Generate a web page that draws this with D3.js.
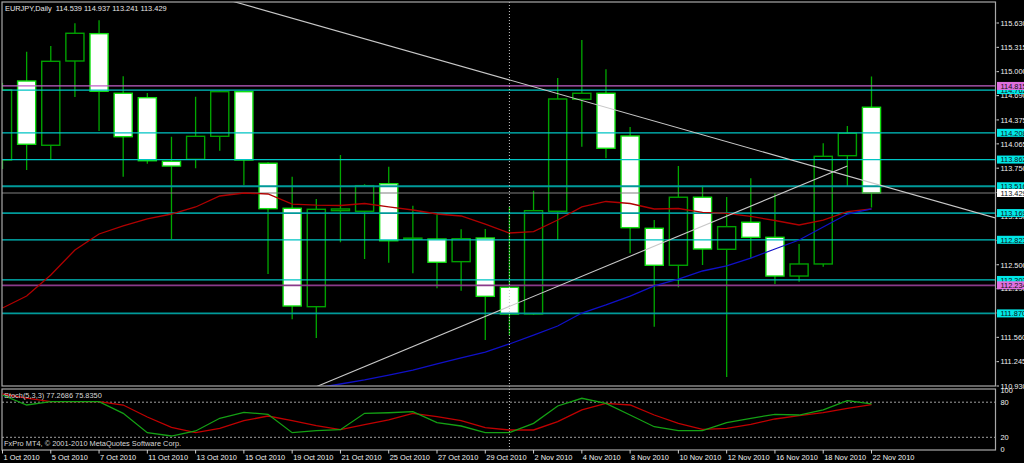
<!DOCTYPE html>
<html><head><meta charset="utf-8">
<script src="https://cdn.jsdelivr.net/npm/d3@7"></script>
<style>html,body{margin:0;padding:0;background:#000;overflow:hidden}</style>
</head><body>
<svg id="c" width="1024" height="463"></svg>
<script>
// ---------------- data ----------------
const dates = ["1 Oct 2010","4 Oct 2010","5 Oct 2010","6 Oct 2010","7 Oct 2010","8 Oct 2010",
  "11 Oct 2010","12 Oct 2010","13 Oct 2010","14 Oct 2010","15 Oct 2010",
  "18 Oct 2010","19 Oct 2010","20 Oct 2010","21 Oct 2010","22 Oct 2010",
  "25 Oct 2010","26 Oct 2010","27 Oct 2010","28 Oct 2010","29 Oct 2010",
  "1 Nov 2010","2 Nov 2010","3 Nov 2010","4 Nov 2010","5 Nov 2010",
  "8 Nov 2010","9 Nov 2010","10 Nov 2010","11 Nov 2010","12 Nov 2010",
  "15 Nov 2010","16 Nov 2010","17 Nov 2010","18 Nov 2010","19 Nov 2010","22 Nov 2010"];
const openP  = [113.856,114.879,114.047,115.138,115.492,114.720,114.663,113.839,113.865,114.163,114.741,
  113.814,113.231,111.957,113.200,113.192,113.549,112.830,112.833,112.540,112.846,
  112.208,111.862,113.192,114.642,114.720,114.167,112.972,112.493,113.374,112.700,
  113.050,112.855,112.354,112.510,113.912,114.539];
const highP  = [114.853,115.259,115.332,115.626,115.665,114.940,114.724,114.158,114.676,114.754,114.754,
  113.826,113.640,113.351,113.921,113.542,113.770,113.265,113.153,112.959,112.963,
  113.252,113.459,114.918,115.410,115.031,114.284,113.080,113.779,113.524,113.377,
  113.619,113.425,112.769,114.073,114.297,114.937];
const lowP   = [113.740,113.727,113.865,114.672,114.232,113.640,113.808,112.833,113.749,113.977,113.533,
  112.380,111.794,111.552,112.791,112.574,112.527,112.389,112.195,112.164,111.526,
  111.590,111.849,112.820,114.029,113.878,112.648,111.698,112.208,112.497,111.047,
  112.583,112.251,112.281,112.475,113.511,113.241];
const closeP = [114.763,114.060,115.134,115.497,114.746,114.158,113.847,113.778,114.163,114.741,113.856,
  113.226,111.966,113.218,113.222,113.524,112.811,112.845,112.532,112.837,112.091,
  111.862,113.200,114.646,114.720,114.008,112.980,112.493,113.374,112.704,112.993,
  112.855,112.354,112.510,113.904,114.202,113.429];
const maRed = [111.940,112.095,112.367,112.691,112.898,113.002,113.093,113.157,113.248,113.390,113.429,
  113.416,113.286,113.273,113.267,113.293,113.248,113.209,113.157,113.131,113.027,
  112.911,112.930,113.079,113.248,113.319,113.293,113.222,113.228,113.177,113.164,
  113.125,113.073,113.015,113.079,113.189,113.222];
const maBlue = [null,null,null,null,null,null,null,null,null,null,null,null,null,
  110.904,110.956,111.008,111.072,111.137,111.215,111.293,111.370,
  111.474,111.590,111.707,111.875,111.979,112.095,112.225,112.315,112.419,112.484,
  112.587,112.704,112.820,112.988,113.157,113.222];
const stochMain = [92.3,75.2,80.9,80.9,80.9,61.0,27.9,22.2,30.8,52.5,62.7,
  59.3,27.9,31.3,33.0,61.0,62.0,63.8,45.0,39.3,27.9,
  27.9,43.9,73.5,86.7,78.1,58.1,38.1,31.3,31.3,45.0,
  52.5,59.3,58.1,66.7,82.6,77.2686];
const stochSignal = [94.0,87.0,80.9,80.9,80.9,75.2,54.7,37.1,27.9,35.4,48.4,
  56.4,48.4,39.8,33.3,41.5,49.6,61.0,55.2,48.4,36.4,
  32.5,32.5,46.7,66.7,78.1,75.2,58.1,43.9,33.7,35.4,
  42.2,51.3,56.9,62.0,69.6,75.8350];
const dateTickLabels = ["1 Oct 2010","5 Oct 2010","7 Oct 2010","11 Oct 2010","13 Oct 2010","15 Oct 2010",
  "19 Oct 2010","21 Oct 2010","25 Oct 2010","27 Oct 2010","29 Oct 2010","2 Nov 2010","4 Nov 2010",
  "8 Nov 2010","10 Nov 2010","12 Nov 2010","16 Nov 2010","18 Nov 2010","22 Nov 2010"];
const priceTickLabels = ["115.630","115.315","115.000","114.690","114.375","114.065","113.750","113.435",
  "113.130","112.815","112.500","112.190","111.875","111.560","111.245","110.930"];
const cyanLevels = [114.762,114.208,113.862,113.516,113.169,112.823,112.303,111.870];
const magentaLevels = [114.815,112.234];
const lastPrice = 113.429;
const trendDown = [[10,115.870],[36,113.561]];
const trendUp = [[13,110.921],[35,113.780]];
const separatorDate = "1 Nov 2010";
const stochLevels = [80,20];
const stochAxisLabels = ["100","80","20","0"];
const symbolName = "EURJPY,Daily";

// ---------------- layout ----------------
const svg = d3.select("#c");
const L = 2, R = 995.5, T = 2, B = 386;
const sT = 389, sB = 450;
const FONT = "'Liberation Sans', Arial, sans-serif";
const FS = 7.4;

const xi = d3.scaleLinear().domain([0, dates.length - 1]).range([2.5, 871.5]);
const x = d => xi(dates.indexOf(d));
const y = d3.scaleLinear().domain([110.930, 115.630]).range([386, 23]);
const ys = d3.scaleLinear().domain([0, 100]).range([449, 390.5]);
const step = xi(1) - xi(0);
const bw = step * 0.75;

svg.append("rect").attr("width", 1024).attr("height", 463).attr("fill", "#000");
const defs = svg.append("defs");
defs.append("clipPath").attr("id", "cm").append("rect").attr("x", L).attr("y", T).attr("width", R - L).attr("height", B - T);
defs.append("clipPath").attr("id", "cs").append("rect").attr("x", L).attr("y", sT).attr("width", R - L).attr("height", sB - sT);

const main = svg.append("g").attr("clip-path", "url(#cm)");

// candles
const idx = d3.range(dates.length);
const cg = main.append("g");
cg.selectAll("line.w").data(idx).join("line")
  .attr("x1", i => xi(i)).attr("x2", i => xi(i))
  .attr("y1", i => y(highP[i])).attr("y2", i => y(lowP[i]))
  .attr("stroke", "#00a800").attr("stroke-width", 1.3);
cg.selectAll("rect.b").data(idx).join("rect")
  .attr("x", i => xi(i) - bw / 2).attr("width", bw)
  .attr("y", i => Math.min(y(openP[i]), y(closeP[i])))
  .attr("height", i => Math.max(1, Math.abs(y(openP[i]) - y(closeP[i]))))
  .attr("fill", i => closeP[i] < openP[i] ? "#ffffff" : "#000000")
  .attr("stroke", i => closeP[i] < openP[i] ? "#10e010" : "#00a000")
  .attr("stroke-width", 1.4);

// level lines
const heavy = new Set([113.516, 113.169, 111.870]);
main.selectAll("line.cy").data(cyanLevels).join("line")
  .attr("x1", L).attr("x2", R).attr("y1", d => y(d)).attr("y2", d => y(d))
  .attr("stroke", d => heavy.has(d) ? "#009a9a" : "#00c4c4")
  .attr("stroke-width", d => heavy.has(d) ? 1.8 : 1.2);
main.selectAll("line.mg").data(magentaLevels).join("line")
  .attr("x1", L).attr("x2", R).attr("y1", d => y(d)).attr("y2", d => y(d))
  .attr("stroke", (d, i) => i === 0 ? "#c060c8" : "#8a3a8a")
  .attr("stroke-width", (d, i) => i === 0 ? 1.2 : 1.8);
main.append("line").attr("x1", L).attr("x2", R).attr("y1", y(lastPrice)).attr("y2", y(lastPrice))
  .attr("stroke", "#808080").attr("stroke-width", 1.2);

// moving averages
const lineGen = arr => d3.line().defined(i => arr[i] != null).x(i => xi(i)).y(i => y(arr[i]))(idx);
main.append("path").attr("d", lineGen(maRed)).attr("fill", "none").attr("stroke", "#b00000").attr("stroke-width", 1.3);
main.append("path").attr("d", lineGen(maBlue)).attr("fill", "none").attr("stroke", "#1010c8").attr("stroke-width", 1.3);

// trend lines
function ext(p, a, b) {
  const [i0, v0] = p[0], [i1, v1] = p[1];
  const s = (v1 - v0) / (i1 - i0);
  return [[a, v0 + s * (a - i0)], [b, v0 + s * (b - i0)]];
}
const dl = ext(trendDown, 0, 60);
main.append("line").attr("x1", xi(dl[0][0])).attr("y1", y(dl[0][1])).attr("x2", xi(dl[1][0])).attr("y2", y(dl[1][1]))
  .attr("stroke", "#c8c8c8").attr("stroke-width", 1.1);
const ul = ext(trendUp, 12, trendUp[1][0]);
main.append("line").attr("x1", xi(ul[0][0])).attr("y1", y(ul[0][1])).attr("x2", xi(ul[1][0])).attr("y2", y(ul[1][1]))
  .attr("stroke", "#c8c8c8").attr("stroke-width", 1.1);

// separator (dotted vertical)
svg.append("line").attr("x1", x(separatorDate)).attr("x2", x(separatorDate)).attr("y1", T).attr("y2", sB)
  .attr("stroke", "#c8c8c8").attr("stroke-width", 1).attr("stroke-dasharray", "1,2");

// panel borders
svg.append("rect").attr("x", L).attr("y", T).attr("width", R - L).attr("height", B - T)
  .attr("fill", "none").attr("stroke", "#a8a8a8").attr("stroke-width", 1.2);
svg.append("rect").attr("x", L).attr("y", sT).attr("width", R - L).attr("height", sB - sT)
  .attr("fill", "none").attr("stroke", "#a8a8a8").attr("stroke-width", 1.2);

// title
const f3 = d3.format(".3f");
const li = dates.length - 1;
svg.append("text").attr("x", 5).attr("y", 10.5).attr("font-family", FONT).attr("font-size", FS).attr("fill", "#e8e8e8")
  .attr("xml:space", "preserve")
  .text(`${symbolName}  ${f3(openP[li])} ${f3(highP[li])} ${f3(lowP[li])} ${f3(closeP[li])}`);

// price axis ticks
const pa = svg.append("g");
priceTickLabels.forEach(t => {
  const yy = y(+t);
  pa.append("line").attr("x1", R + 1).attr("x2", R + 3.5).attr("y1", yy).attr("y2", yy).attr("stroke", "#d0d0d0");
  pa.append("text").attr("x", 1000.5).attr("y", yy + 2.8).attr("font-family", FONT).attr("font-size", FS)
    .attr("fill", "#f0f0f0").text(t);
});
// level label boxes
function box(v, bg) {
  const yy = y(v);
  pa.append("rect").attr("x", 997).attr("y", yy - 4).attr("width", 30).attr("height", 8).attr("fill", bg);
  pa.append("text").attr("x", 1000.5).attr("y", yy + 2.8).attr("font-family", FONT).attr("font-size", FS)
    .attr("fill", "#101010").text(f3(v));
}
cyanLevels.forEach(v => box(v, "#00e8e8"));
magentaLevels.forEach(v => box(v, "#e070e0"));
box(lastPrice, "#ffffff");

// ---------------- stochastic ----------------
const sub = svg.append("g").attr("clip-path", "url(#cs)");
sub.selectAll("line.lv").data(stochLevels).join("line")
  .attr("x1", L).attr("x2", R).attr("y1", d => ys(d)).attr("y2", d => ys(d))
  .attr("stroke", "#a0a0a0").attr("stroke-dasharray", "2,2").attr("stroke-width", 1);
const sLine = arr => d3.line().x(i => xi(i)).y(i => ys(arr[i]))(idx);
sub.append("path").attr("d", sLine(stochSignal)).attr("fill", "none").attr("stroke", "#c00000").attr("stroke-width", 1.3);
sub.append("path").attr("d", sLine(stochMain)).attr("fill", "none").attr("stroke", "#14a014").attr("stroke-width", 1.3);

const f4 = d3.format(".4f");
svg.append("text").attr("x", 4).attr("y", 397.5).attr("font-family", FONT).attr("font-size", FS).attr("fill", "#d8d8d8")
  .text(`Stoch(5,3,3) ${f4(stochMain[li])} ${f4(stochSignal[li])}`);
svg.append("text").attr("x", 4).attr("y", 446).attr("font-family", FONT).attr("font-size", FS).attr("fill", "#d8d8d8")
  .text("FxPro MT4, © 2001-2010 MetaQuotes Software Corp.");
stochAxisLabels.forEach(t => {
  svg.append("text").attr("x", 1000.5).attr("y", ys(+t) + 2.8).attr("font-family", FONT).attr("font-size", FS)
    .attr("fill", "#f0f0f0").text(t);
});

// ---------------- date axis ----------------
const da = svg.append("g");
dateTickLabels.forEach(d => {
  const xx = x(d);
  da.append("line").attr("x1", xx).attr("x2", xx).attr("y1", sB).attr("y2", sB + 3.5).attr("stroke", "#d0d0d0");
  da.append("text").attr("x", xx + 1).attr("y", 460).attr("font-family", FONT).attr("font-size", FS)
    .attr("fill", "#f0f0f0").text(d);
});
</script>
</body></html>
